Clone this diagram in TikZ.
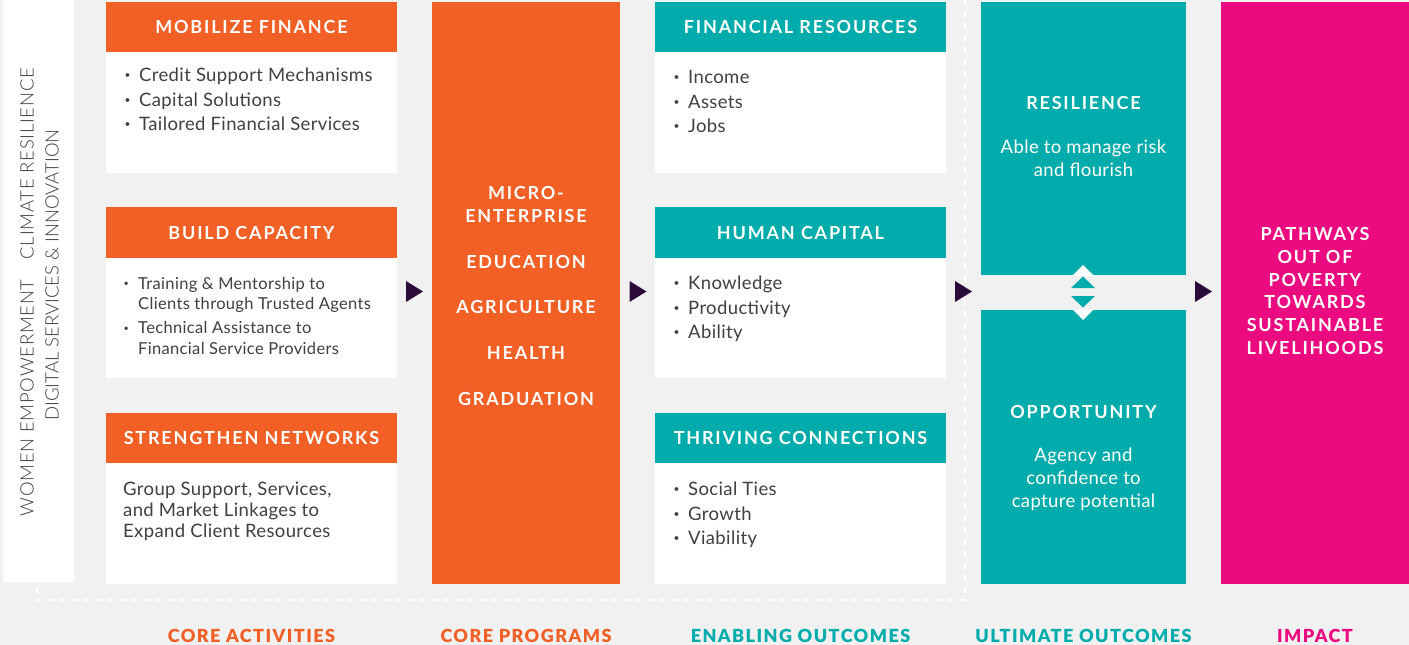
\documentclass[tikz,border=0pt]{standalone}
\usepackage{fontspec}
\setmainfont{Lato}
\newfontfamily\hdfont[LetterSpace=10]{Lato}
\newfontfamily\lbfont[LetterSpace=8]{Lato Black}
\newfontfamily\bdfont[LetterSpace=2]{Lato}
\newfontfamily\sidefont[LetterSpace=4]{Lato Light}
\newfontfamily\sidefontb[LetterSpace=0]{Lato Light}
\usetikzlibrary{calc}
\definecolor{bgc}{HTML}{F1F1F1}
\definecolor{orng}{HTML}{F26025}
\definecolor{teal}{HTML}{00ACAB}
\definecolor{magn}{HTML}{EB0A80}
\definecolor{arrc}{HTML}{2B0B3A}
\definecolor{txtc}{HTML}{404040}
\definecolor{sidec}{HTML}{3C3C3C}
\newcommand{\bl}{\makebox[16pt][l]{\hspace{1.5pt}\raisebox{0.28ex}{\scalebox{0.55}{\textbullet}}}}
\newcommand{\ind}{\hspace*{16pt}}
\begin{document}
\begin{tikzpicture}[x=1pt,y=-1pt,
  blk/.style={anchor=north west, inner sep=0pt, outer sep=0pt, draw=none},
  hdr/.style={blk, minimum width=291pt, text=white, font=\hdfont\bfseries\fontsize{18}{20}\selectfont},
  bodyb/.style={blk, fill=white, minimum width=291pt},
  btxt/.style={anchor=base west, inner sep=0pt, align=left, text=txtc, font=\bdfont\fontsize{18.5}{24.5}\selectfont},
  ctxt/.style={anchor=base, inner sep=0pt, align=center, text=white, font=\bdfont\fontsize{18.5}{23}\selectfont},
  ctitle/.style={anchor=base, inner sep=0pt, align=center, text=white, font=\hdfont\bfseries\fontsize{18}{23}\selectfont},
  lbl/.style={anchor=center, inner sep=0pt, font=\lbfont\fontsize{18}{20}\selectfont},
  sidetxt/.style={rotate=90, inner sep=0pt, text=sidec},
  arrowc/.style={fill=arrc},
  dsh/.style={draw=white, line width=2pt, dash pattern=on 6pt off 6pt}
]
\useasboundingbox (0,0) rectangle (1409,645);
\fill[bgc] (0,0) rectangle (1409,645);

% dashed frame
\draw[dsh] (37,587) -- (37,600) -- (965,600) -- (965,0);

% side panel
\node[blk, fill=white, minimum width=71pt, minimum height=582pt] (side) at (3,0) {};
\node[sidetxt, font=\sidefont\fontsize{18.5}{20}\selectfont] (side1) at (27,292) {WOMEN EMPOWERMENT\hspace{20pt}CLIMATE RESILIENCE};
\node[sidetxt, font=\sidefontb\fontsize{18.5}{20}\selectfont] (side2) at (52,275) {DIGITAL SERVICES \& INNOVATION};

% column 1
\node[hdr, fill=orng, minimum height=50pt] (h1) at (106,2) {MOBILIZE FINANCE};
\node[bodyb, minimum height=121pt] (b1) at (106,52) {};
\node[hdr, fill=orng, minimum height=51pt] (h2) at (106,207) {BUILD CAPACITY};
\node[bodyb, minimum height=120pt] (b2) at (106,258) {};
\node[hdr, fill=orng, minimum height=50pt] (h3) at (106,413) {STRENGTHEN NETWORKS};
\node[bodyb, minimum height=121pt] (b3) at (106,463) {};

\node[btxt] (t1) at (123,130.6) {\bl Credit Support Mechanisms\\\bl Capital Solutions\\\bl Tailored Financial Services};
\node[btxt, font=\bdfont\fontsize{16.5}{20.5}\selectfont] (t2) at (122,354) {\bl Training \& Mentorship to\\\ind Clients through Trusted Agents\\[3.5pt]\bl Technical Assistance to\\\ind Financial Service Providers};
\node[btxt, font=\bdfont\fontsize{18.5}{21}\selectfont] (t3) at (123,537.6) {Group Support, Services,\\and Market Linkages to\\Expand Client Resources};

% column 2
\node[blk, fill=orng, minimum width=188pt, minimum height=582pt] (prog) at (432,2) {};
\node[ctitle] (progt) at (526,405.5) {MICRO-\\ENTERPRISE\\[23pt]EDUCATION\\[22.5pt]AGRICULTURE\\[23pt]HEALTH\\[23pt]GRADUATION};

% column 3
\node[hdr, fill=teal, minimum height=50pt] (e1) at (655,2) {FINANCIAL RESOURCES};
\node[bodyb, minimum height=121pt] (eb1) at (655,52) {};
\node[hdr, fill=teal, minimum height=51pt] (e2) at (655,207) {HUMAN CAPITAL};
\node[bodyb, minimum height=120pt] (eb2) at (655,258) {};
\node[hdr, fill=teal, minimum height=50pt] (e3) at (655,413) {THRIVING CONNECTIONS};
\node[bodyb, minimum height=121pt] (eb3) at (655,463) {};

\node[btxt] (et1) at (672,132.6) {\bl Income\\\bl Assets\\\bl Jobs};
\node[btxt] (et2) at (672,338.6) {\bl Knowledge\\\bl Productivity\\\bl Ability};
\node[btxt] (et3) at (672,544.6) {\bl Social Ties\\\bl Growth\\\bl Viability};

% column 4
\node[blk, fill=teal, minimum width=205pt, minimum height=273pt] (res) at (981,2) {};
\node[blk, fill=teal, minimum width=205pt, minimum height=274pt] (opp) at (981,310) {};
\node[ctitle] (rest) at (1083.5,109.5) {RESILIENCE};
\node[ctxt] (resb) at (1083.5,176.6) {Able to manage risk\\and flourish};
\node[ctitle] (oppt) at (1083.5,418.5) {OPPORTUNITY};
\node[ctxt] (oppb) at (1083.5,507.6) {Agency and\\confidence to\\capture potential};

% double arrow between resilience and opportunity
\fill[white] (1072,276) -- (1083,265) -- (1094,276) -- cycle;
\fill[white] (1072,309) -- (1083,320) -- (1094,309) -- cycle;
\fill[teal] (1071,288) -- (1083,276.5) -- (1095,288) -- cycle;
\fill[teal] (1071,296) -- (1095,296) -- (1083,307.5) -- cycle;

% column 5
\node[blk, fill=magn, minimum width=188pt, minimum height=582pt] (imp) at (1221,2) {};
\node[ctitle, font=\hdfont\bfseries\fontsize{18}{22.8}\selectfont] (impt) at (1315,354.5) {PATHWAYS\\OUT OF\\POVERTY\\TOWARDS\\SUSTAINABLE\\LIVELIHOODS};

% arrow markers
\foreach \ax in {414.5,638,963.5,1203.5}{
  \fill[arrowc] (\ax-8.5,281) -- (\ax+8.5,291.5) -- (\ax-8.5,302) -- cycle;
}

% bottom labels
\node[lbl, text=orng] (l1) at (251.5,636) {CORE ACTIVITIES};
\node[lbl, text=orng] (l2) at (526,636) {CORE PROGRAMS};
\node[lbl, text=teal] (l3) at (800.5,636) {ENABLING OUTCOMES};
\node[lbl, text=teal] (l4) at (1083.5,636) {ULTIMATE OUTCOMES};
\node[lbl, text=magn] (l5) at (1315,636) {IMPACT};
\end{tikzpicture}
\end{document}
